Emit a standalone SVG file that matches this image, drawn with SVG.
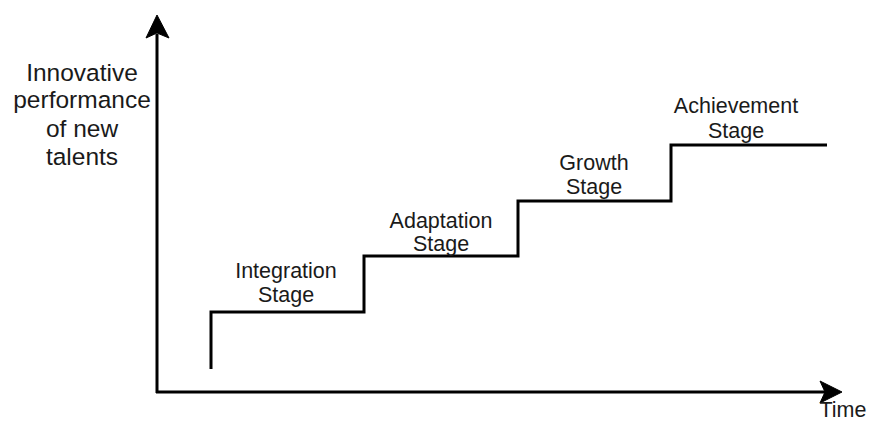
<svg xmlns="http://www.w3.org/2000/svg" width="871" height="422" viewBox="0 0 871 422">
<style>
.ln{fill:none;stroke:#000;stroke-width:3}
.ah{fill:#000;stroke:#000;stroke-width:1}
text{font-family:"Liberation Sans",Arial,sans-serif;fill:#1a1a1a;text-anchor:middle}
.ax{font-size:24.5px}
.st{font-size:21.5px}
</style>
<rect width="871" height="422" fill="#fff"/>
<g id="connectors">
<line class="ln" x1="157" y1="393" x2="157" y2="34"/>
<polygon class="ah" points="157,15 146,38 157,33 169,38"/>
<line class="ln" x1="156" y1="392" x2="826" y2="392"/>
<polygon class="ah" points="842,392 820,381 825,392 820,403"/>
<path id="steps" class="ln" d="M211,369 V312 H364 V256 H518 V201 H671 V145 H827"/>
</g>
<g id="y-label"><text class="ax" x="82" y="81">Innovative</text><text class="ax" x="82" y="108">performance</text><text class="ax" x="82" y="137">of new</text><text class="ax" x="82" y="165">talents</text></g>
<g id="x-label"><text class="st" x="843" y="417">Time</text></g>
<g id="integration"><text class="st" x="286" y="278">Integration</text><text class="st" x="286" y="302">Stage</text></g>
<g id="adaptation"><text class="st" x="441" y="228">Adaptation</text><text class="st" x="441" y="251">Stage</text></g>
<g id="growth"><text class="st" x="594" y="170">Growth</text><text class="st" x="594" y="194">Stage</text></g>
<g id="achievement"><text class="st" x="736" y="113">Achievement</text><text class="st" x="736" y="138">Stage</text></g>
</svg>
